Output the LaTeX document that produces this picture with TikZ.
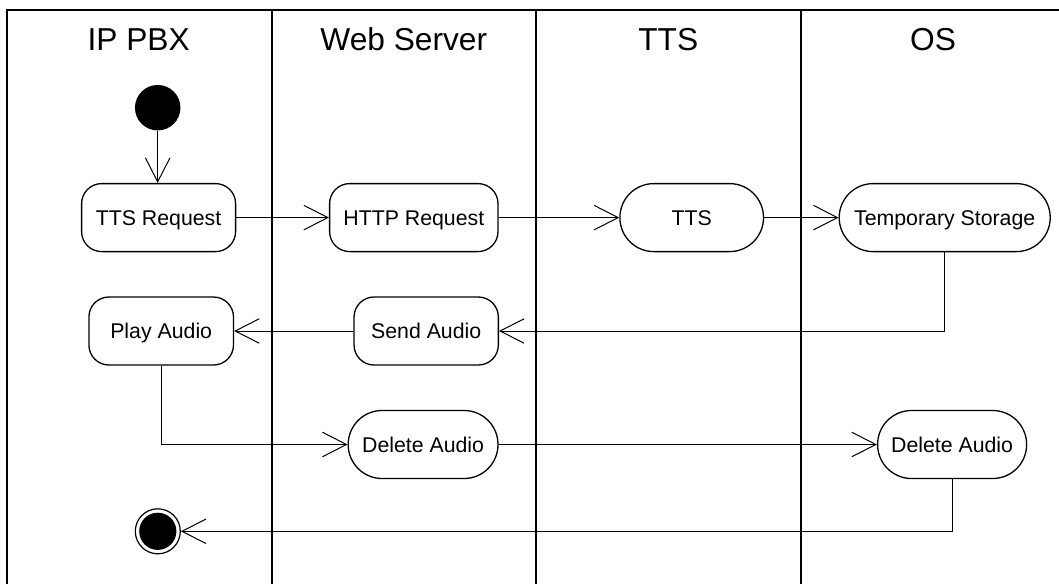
\documentclass[tikz,border=0pt]{standalone}
\usepackage{fontspec}
\setmainfont{Liberation Sans}
\usetikzlibrary{arrows.meta}
\begin{document}
\begin{tikzpicture}[x=1pt, y=-1pt,
  lane/.style={line width=1.6pt},
  lanehead/.style={anchor=base, inner sep=0pt, font=\fontsize{31.7}{36}\selectfont},
  action/.style={draw, line width=1.3pt, rectangle, rounded corners=20pt,
    minimum height=68pt, inner sep=0pt, text height=15.2pt, text depth=0pt,
    font=\fontsize{21.3}{25}\selectfont},
  activity/.style={action, rounded corners=33.9pt},
  flow/.style={line width=1pt, -{Straight Barb[length=24pt, width=24.5pt, line width=1pt]}},
]
\useasboundingbox (0,0) rectangle (1059,584);

% swimlane frame
\draw[lane] (6.7,584) -- (6.7,10) -- (1059,10);
\draw[lane] (271.8,10) -- (271.8,584);
\draw[lane] (535.8,10) -- (535.8,584);
\draw[lane] (801.2,10) -- (801.2,584);

% lane titles
\node[lanehead] (hpbx) at (138.7,50) {IP PBX};
\node[lanehead] (hweb) at (403.8,50) {Web Server};
\node[lanehead] (htts) at (668.2,50) {TTS};
\node[lanehead] (hos)  at (933,50)   {OS};

% initial and final states
\node[circle, fill=black, minimum size=45.5pt, inner sep=0pt] (start) at (157.7,107.7) {};
\node[circle, draw, line width=1.2pt, minimum size=45pt, inner sep=0pt] (stop) at (157.8,531.3) {};
\fill (stop.center) circle (18.6pt);

% actions
\node[action, minimum width=154pt] (treq) at (158.6,217.6) {TTS Request};
\node[action, minimum width=168.4pt] (hreq) at (413.8,217.6) {HTTP Request};
\node[activity, minimum width=143.6pt] (tts) at (691.7,217.6) {TTS};
\node[activity, minimum width=211pt] (tsto) at (944.7,217.6) {Temporary Storage};
\node[action, minimum width=144.6pt] (play) at (161.2,331) {Play Audio};
\node[action, minimum width=144.3pt] (send) at (426.2,331) {Send Audio};
\node[activity, minimum width=149.8pt] (dweb) at (423.1,444.5) {Delete Audio};
\node[activity, minimum width=149pt] (dos) at (952.1,444.5) {Delete Audio};

% control flow
\draw[flow] (start.south) -- (start.south |- treq.north);
\draw[flow] (treq) -- (hreq);
\draw[flow] (hreq) -- (tts);
\draw[flow] (tts) -- (tsto);
\draw[flow] (tsto.south) |- (send.east);
\draw[flow] (send) -- (play);
\draw[flow] (play.south) |- (dweb.west);
\draw[flow] (dweb) -- (dos);
\draw[flow] (dos.south) |- (stop.east);
\end{tikzpicture}
\end{document}
